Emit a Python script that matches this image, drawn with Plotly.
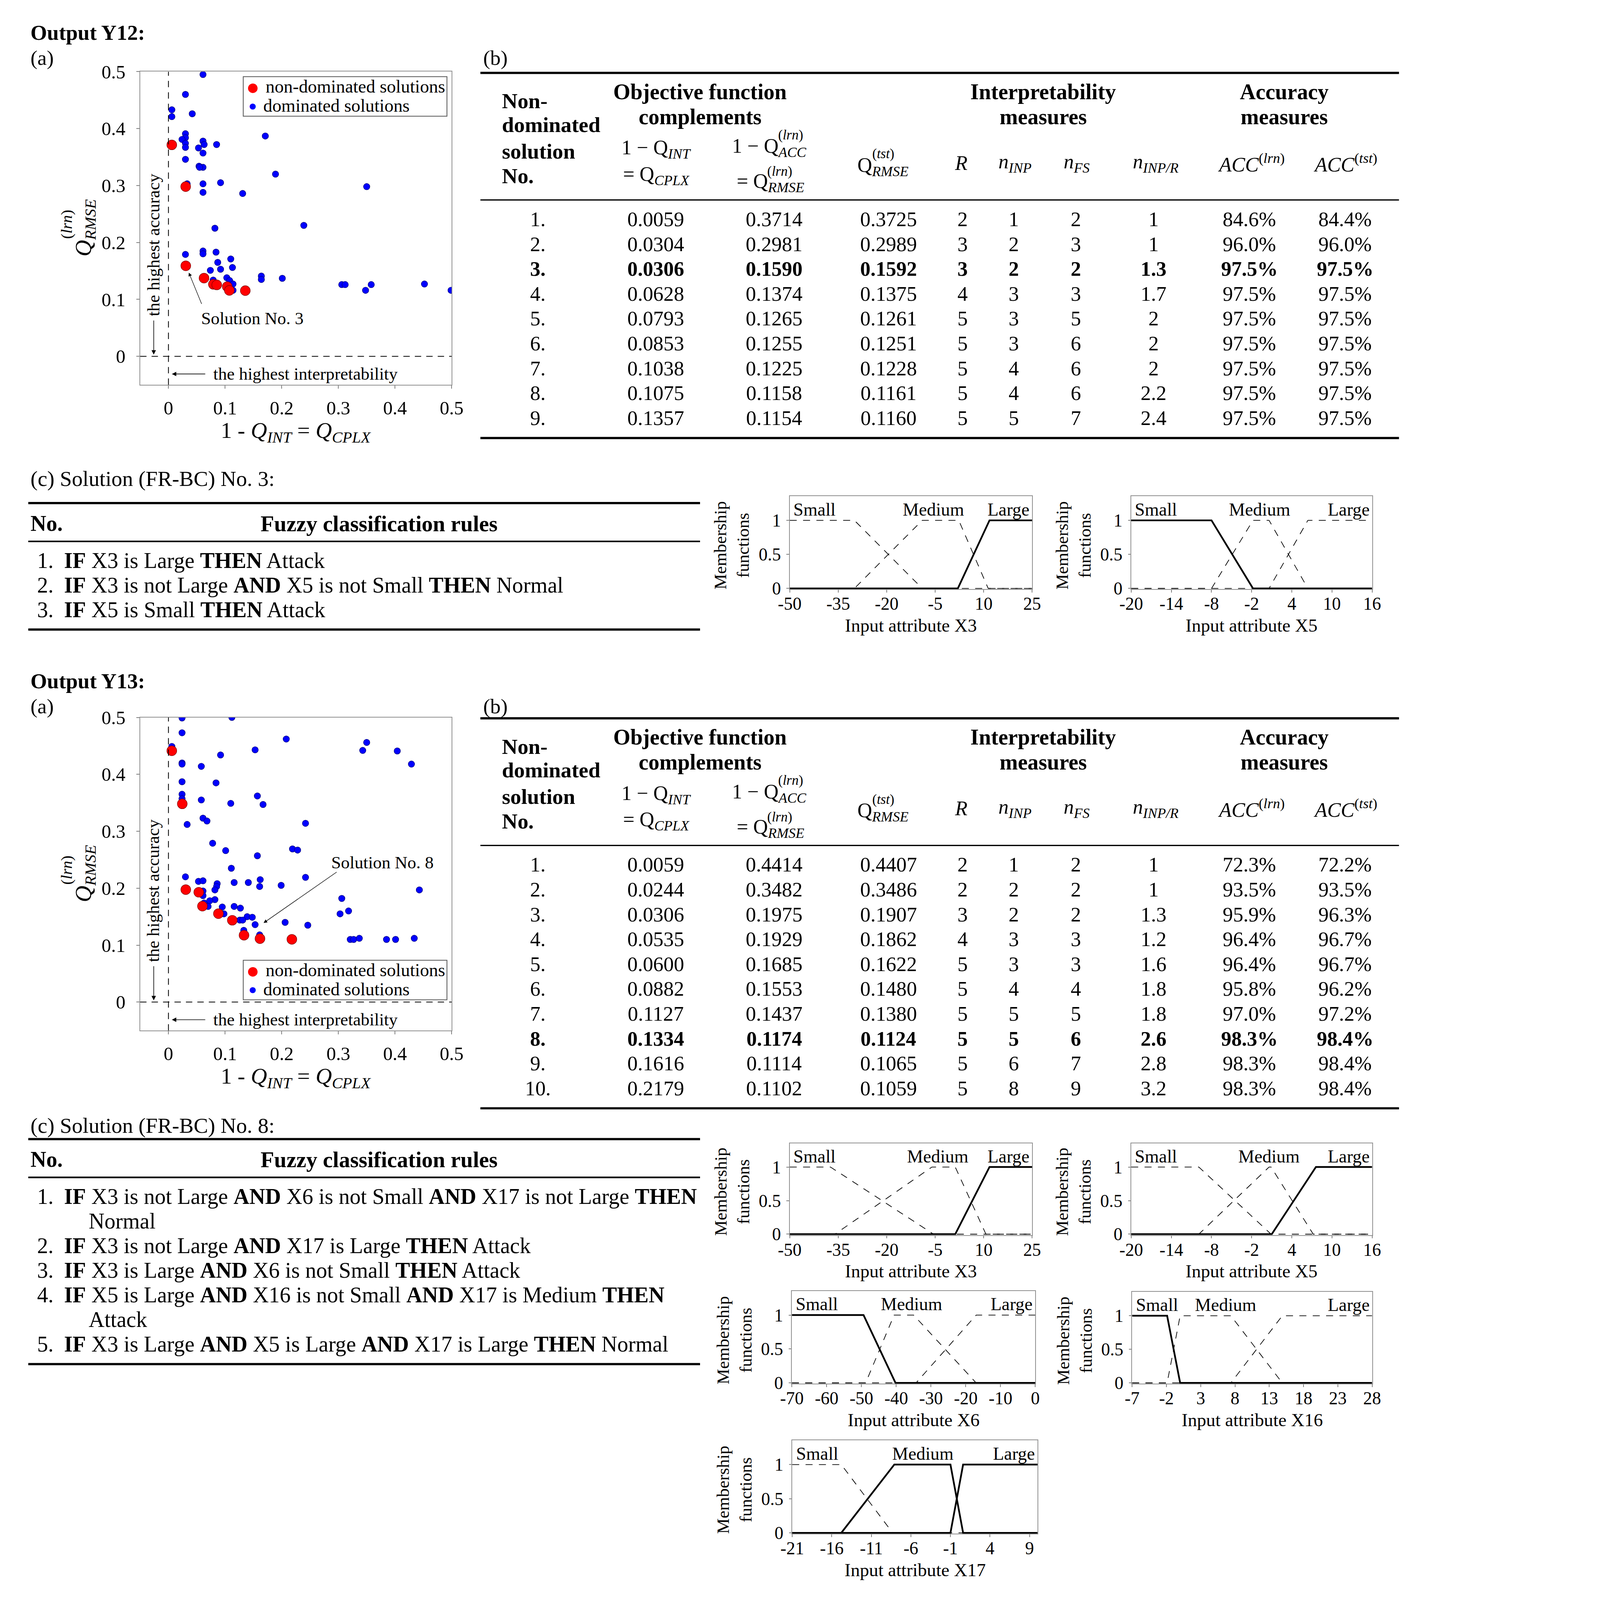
import plotly.graph_objects as go

# Reference geometry is 4477 x 5037; the viewer window is capped at 4096 px,
# so the whole figure is drawn uniformly scaled to fit that height.
W_REF, H_REF = 4477, 5037
S = 4096 / H_REF
W_FIG, H_FIG = round(W_REF * S), 4096
FONT = "Liberation Serif"

# ====================== DATA: Output Y12 ======================
y12_nd_cplx = [0.0059, 0.0304, 0.0306, 0.0628, 0.0793, 0.0853, 0.1038, 0.1075, 0.1357]
y12_nd_rmse_lrn = [0.3714, 0.2981, 0.1590, 0.1374, 0.1265, 0.1255, 0.1225, 0.1158, 0.1154]
y12_nd_rmse_tst = [0.3725, 0.2989, 0.1592, 0.1375, 0.1261, 0.1251, 0.1228, 0.1161, 0.1160]
y12_R = [2, 3, 3, 4, 5, 5, 5, 5, 5]
y12_n_inp = [1, 2, 2, 3, 3, 3, 4, 4, 5]
y12_n_fs = [2, 3, 2, 3, 5, 6, 6, 6, 7]
y12_n_inp_r = [1, 1, 1.3, 1.7, 2, 2, 2, 2.2, 2.4]
y12_acc_lrn = [84.6, 96.0, 97.5, 97.5, 97.5, 97.5, 97.5, 97.5, 97.5]
y12_acc_tst = [84.4, 96.0, 97.5, 97.5, 97.5, 97.5, 97.5, 97.5, 97.5]
y12_selected = 3

y12_dom_cplx = [0.061, 0.030, 0.006, 0.006, 0.042, 0.030, 0.030, 0.024, 0.030, 0.030,
                0.053, 0.061, 0.063, 0.085, 0.061, 0.030, 0.054, 0.061, 0.055, 0.171,
                0.189, 0.033, 0.061, 0.092, 0.061, 0.131, 0.350, 0.082, 0.239, 0.030,
                0.061, 0.061, 0.084, 0.110, 0.087, 0.074, 0.092, 0.113, 0.079, 0.103,
                0.108, 0.114, 0.114, 0.164, 0.164, 0.201, 0.306, 0.312, 0.348, 0.358,
                0.452, 0.499]
y12_dom_rmse = [0.495, 0.460, 0.433, 0.421, 0.426, 0.391, 0.384, 0.381, 0.374, 0.367,
                0.366, 0.378, 0.372, 0.372, 0.357, 0.346, 0.334, 0.332, 0.332, 0.387,
                0.320, 0.303, 0.303, 0.305, 0.288, 0.286, 0.298, 0.225, 0.230, 0.179,
                0.185, 0.180, 0.183, 0.171, 0.165, 0.151, 0.153, 0.156, 0.134, 0.138,
                0.133, 0.127, 0.116, 0.141, 0.135, 0.137, 0.126, 0.126, 0.116, 0.126,
                0.127, 0.116]

y12_rules = [
    ("1.", "<b>IF</b> X3 is Large <b>THEN</b> Attack"),
    ("2.", "<b>IF</b> X3 is not Large <b>AND</b> X5 is not Small <b>THEN</b> Normal"),
    ("3.", "<b>IF</b> X5 is Small <b>THEN</b> Attack"),
]

# membership functions (Small: end of plateau, zero point; Medium: a,b,c,d; Large: zero point, start of plateau)
y12_x3_range = [-50, 25]
y12_x3_ticks = [-50, -35, -20, -5, 10, 25]
y12_x3_small = [-30, -9]
y12_x3_medium = [-30, -9, 2.3, 11.4]
y12_x3_large = [2, 11.8]
y12_x3_solid = ["Large"]
y12_x3_medium_label = -5.5

y12_x5_range = [-20, 16]
y12_x5_ticks = [-20, -14, -8, -2, 4, 10, 16]
y12_x5_small = [-8, -1.8]
y12_x5_medium = [-8, -1.8, 0.6, 6.4]
y12_x5_large = [0.6, 6.4]
y12_x5_solid = ["Small"]
y12_x5_medium_label = -0.8

# ====================== DATA: Output Y13 ======================
y13_nd_cplx = [0.0059, 0.0244, 0.0306, 0.0535, 0.0600, 0.0882, 0.1127, 0.1334, 0.1616, 0.2179]
y13_nd_rmse_lrn = [0.4414, 0.3482, 0.1975, 0.1929, 0.1685, 0.1553, 0.1437, 0.1174, 0.1114, 0.1102]
y13_nd_rmse_tst = [0.4407, 0.3486, 0.1907, 0.1862, 0.1622, 0.1480, 0.1380, 0.1124, 0.1065, 0.1059]
y13_R = [2, 2, 3, 4, 5, 5, 5, 5, 5, 5]
y13_n_inp = [1, 2, 2, 3, 3, 4, 5, 5, 6, 8]
y13_n_fs = [2, 2, 2, 3, 3, 4, 5, 6, 7, 9]
y13_n_inp_r = [1, 1, 1.3, 1.2, 1.6, 1.8, 1.8, 2.6, 2.8, 3.2]
y13_acc_lrn = [72.3, 93.5, 95.9, 96.4, 96.4, 95.8, 97.0, 98.3, 98.3, 98.3]
y13_acc_tst = [72.2, 93.5, 96.3, 96.7, 96.7, 96.2, 97.2, 98.4, 98.4, 98.4]
y13_selected = 8

y13_dom_cplx = [0.024, 0.112, 0.024, 0.006, 0.208, 0.350, 0.343, 0.404, 0.429, 0.153,
                0.092, 0.024, 0.024, 0.058, 0.024, 0.084, 0.024, 0.024, 0.058, 0.157,
                0.110, 0.167, 0.061, 0.068, 0.033, 0.242, 0.078, 0.101, 0.219, 0.228,
                0.157, 0.111, 0.030, 0.053, 0.061, 0.116, 0.141, 0.162, 0.242, 0.086,
                0.085, 0.082, 0.161, 0.199, 0.443, 0.061, 0.061, 0.082, 0.063, 0.073,
                0.070, 0.095, 0.116, 0.127, 0.306, 0.318, 0.303, 0.098, 0.139, 0.148,
                0.126, 0.131, 0.153, 0.206, 0.246, 0.133, 0.161, 0.321, 0.327, 0.337,
                0.385, 0.401, 0.434]
y13_dom_rmse = [0.499, 0.500, 0.473, 0.449, 0.462, 0.456, 0.442, 0.441, 0.418, 0.443,
                0.434, 0.420, 0.418, 0.414, 0.387, 0.385, 0.365, 0.357, 0.355, 0.362,
                0.349, 0.347, 0.323, 0.318, 0.312, 0.314, 0.279, 0.266, 0.269, 0.267,
                0.257, 0.235, 0.220, 0.212, 0.213, 0.210, 0.210, 0.215, 0.219, 0.208,
                0.203, 0.197, 0.203, 0.205, 0.197, 0.195, 0.187, 0.180, 0.174, 0.178,
                0.168, 0.167, 0.168, 0.165, 0.182, 0.160, 0.155, 0.155, 0.150, 0.149,
                0.144, 0.144, 0.136, 0.140, 0.135, 0.126, 0.118, 0.110, 0.110, 0.112,
                0.110, 0.110, 0.112]

y13_rules = [
    ("1.", "<b>IF</b> X3 is not Large <b>AND</b> X6 is not Small <b>AND</b> X17 is not Large <b>THEN</b>"),
    ("", "Normal"),
    ("2.", "<b>IF</b> X3 is not Large <b>AND</b> X17 is Large <b>THEN</b> Attack"),
    ("3.", "<b>IF</b> X3 is Large <b>AND</b> X6 is not Small <b>THEN</b> Attack"),
    ("4.", "<b>IF</b> X5 is Large <b>AND</b> X16 is not Small <b>AND</b> X17 is Medium <b>THEN</b>"),
    ("", "Attack"),
    ("5.", "<b>IF</b> X3 is Large <b>AND</b> X5 is Large <b>AND</b> X17 is Large <b>THEN</b> Normal"),
]

y13_x3_range = [-50, 25]
y13_x3_ticks = [-50, -35, -20, -5, 10, 25]
y13_x3_small = [-37.4, -5.5]
y13_x3_medium = [-36, -6, 1.2, 10.7]
y13_x3_large = [1.2, 11.8]
y13_x3_solid = ["Large"]
y13_x3_medium_label = -4.2

y13_x5_range = [-20, 16]
y13_x5_ticks = [-20, -14, -8, -2, 4, 10, 16]
y13_x5_small = [-9.9, 0.9]
y13_x5_medium = [-9.9, 0.6, 0.9, 7.2]
y13_x5_large = [1.0, 7.6]
y13_x5_solid = ["Large"]
y13_x5_medium_label = 0.6

y13_x6_range = [-70, 0]
y13_x6_ticks = [-70, -60, -50, -40, -30, -20, -10, 0]
y13_x6_small = [-49.4, -40.2]
y13_x6_medium = [-48.8, -40.6, -35, -17]
y13_x6_large = [-34.3, -17]
y13_x6_solid = ["Small"]
y13_x6_medium_label = -35.6

y13_x16_range = [-7, 28]
y13_x16_ticks = [-7, -2, 3, 8, 13, 18, 23, 28]
y13_x16_small = [-1.9, 0]
y13_x16_medium = [-1.9, 0, 7.4, 14.9]
y13_x16_large = [7.4, 14.9]
y13_x16_solid = ["Small"]
y13_x16_medium_label = 6.6

y13_x17_range = [-21, 10]
y13_x17_ticks = [-21, -16, -11, -6, -1, 4, 9]
y13_x17_small = [-14.8, -8.3]
y13_x17_medium = [-14.8, -8.1, -1, 0.6]
y13_x17_large = [-1, 0.6]
y13_x17_solid = ["Medium", "Large"]
y13_x17_medium_label = -4.5

scatter_ticks = [0, 0.1, 0.2, 0.3, 0.4, 0.5]

# ====================== FIGURE ======================
fig = go.Figure()
ann = []
shapes = []
axes = {}


def z(v):
    return v * S


def zi(v):
    return int(round(v * S))


def dash(a, b):
    return f"{z(a):.1f}px,{z(b):.1f}px"


def px(x):
    return x / W_REF


def py(y):
    return 1 - y / H_REF


def text(x, y, s, size=64, xa="left", ya="middle", color="black", **kw):
    ann.append(dict(x=px(x), y=py(y), xref="paper", yref="paper", text=s, showarrow=False,
                    xanchor=xa, yanchor=ya, font=dict(size=z(size), family=FONT, color=color),
                    **kw))


def hline(x0, x1, y, w):
    shapes.append(dict(type="line", xref="paper", yref="paper", x0=px(x0), x1=px(x1),
                       y0=py(y), y1=py(y), line=dict(color="black", width=z(w))))


def axname(n, kind):
    return f"{kind}axis" if n == 1 else f"{kind}axis{n}"


def ref(n, kind):
    return kind if n == 1 else f"{kind}{n}"


# ---------- scatter panels ----------
def scatter_panel(n, top, dom_x, dom_y, nd_x, nd_y, sol_idx, sol_text_xy, sol_tail, sol_head,
                  leg_top):
    left, right, bottom = 411, 1408, top + 998
    common = dict(range=[-0.05, 0.5], tickvals=scatter_ticks,
                  ticktext=[f"{v:g}" for v in scatter_ticks], ticks="outside", ticklen=z(10),
                  tickwidth=z(2), tickcolor="#808080", showline=True, mirror=True,
                  linecolor="#909090", linewidth=z(2), showgrid=False, zeroline=False,
                  tickfont=dict(size=z(60), family=FONT, color="black"))
    axes[axname(n, "x")] = dict(domain=[px(left), px(right)], anchor=ref(n, "y"),
                                ticklabelstandoff=zi(8), **common)
    axes[axname(n, "y")] = dict(domain=[py(bottom), py(top)], anchor=ref(n, "x"),
                                ticklabelstandoff=zi(22), **common)
    xr, yr = ref(n, "x"), ref(n, "y")
    fig.add_trace(go.Scatter(x=dom_x, y=dom_y, mode="markers", xaxis=xr, yaxis=yr,
                             marker=dict(color="#0000ff", size=z(20),
                                         line=dict(color="#00007a", width=z(1.5))),
                             name="dominated solutions", showlegend=False))
    fig.add_trace(go.Scatter(x=nd_x, y=nd_y, mode="markers", xaxis=xr, yaxis=yr,
                             marker=dict(color="#ff0000", size=z(31),
                                         line=dict(color="#7a0000", width=z(1.5))),
                             name="non-dominated solutions", showlegend=False))
    # dashed reference lines
    shapes.append(dict(type="line", xref=xr, yref=yr, x0=0, x1=0, y0=-0.05, y1=0.5,
                       line=dict(color="black", width=z(2.5), dash=dash(20, 16))))
    shapes.append(dict(type="line", xref=xr, yref=yr, x0=-0.05, x1=0.5, y0=0, y1=0,
                       line=dict(color="black", width=z(2.5), dash=dash(20, 16))))
    f = dict(size=z(55), family=FONT, color="black")
    ann.append(dict(x=-0.027, y=0.196, xref=xr, yref=yr, text="the highest accuracy",
                    textangle=-90, showarrow=False, font=f))
    ann.append(dict(x=-0.026, y=0.003, ax=-0.026, ay=0.064, xref=xr, yref=yr, axref=xr,
                    ayref=yr, text="", showarrow=True, arrowhead=2, arrowsize=1.4,
                    arrowwidth=z(2), arrowcolor="black"))
    ann.append(dict(x=0.078, y=-0.031, xref=xr, yref=yr, text="the highest interpretability",
                    xanchor="left", showarrow=False, font=f))
    ann.append(dict(x=0.006, y=-0.031, ax=0.066, ay=-0.031, xref=xr, yref=yr, axref=xr,
                    ayref=yr, text="", showarrow=True, arrowhead=2, arrowsize=1.4,
                    arrowwidth=z(2), arrowcolor="black"))
    ann.append(dict(x=sol_text_xy[0], y=sol_text_xy[1], xref=xr, yref=yr,
                    text=f"Solution No. {sol_idx}", showarrow=False, font=f))
    ann.append(dict(x=sol_head[0], y=sol_head[1], ax=sol_tail[0], ay=sol_tail[1], xref=xr,
                    yref=yr, axref=xr, ayref=yr, text="", showarrow=True, arrowhead=2,
                    arrowsize=1.4, arrowwidth=z(1.6), arrowcolor="black"))
    # legend box
    shapes.append(dict(type="rect", xref="paper", yref="paper", x0=px(741), x1=px(1393),
                       y0=py(leg_top + 126), y1=py(leg_top), fillcolor="white",
                       line=dict(color="#555555", width=z(2.5))))
    text(771, leg_top + 33, "●", size=70, xa="center", color="#ff0000")
    text(772, leg_top + 93, "●", size=44, xa="center", color="#0000ff")
    text(810, leg_top + 31, "non-dominated solutions", size=57)
    text(803, leg_top + 92, "dominated solutions", size=57)
    # axis titles (superscript stacked above the subscript)
    text(234, top + 498, "<i>Q</i><sub><i>RMSE</i></sub>", size=72, xa="center",
         textangle=-90)
    text(176, top + 486, "(<i>lrn</i>)", size=50, xa="center", textangle=-90)
    text(909, top + 1148, "1 - <i>Q</i><sub><i>INT</i></sub> = <i>Q</i><sub><i>CPLX</i></sub>",
         size=71, xa="center")


scatter_panel(1, 196, y12_dom_cplx, y12_dom_rmse, y12_nd_cplx, y12_nd_rmse_lrn, y12_selected,
              (0.148, 0.067), (0.059, 0.091), (0.036, 0.147), 212)
scatter_panel(2, 2254, y13_dom_cplx, y13_dom_rmse, y13_nd_cplx, y13_nd_rmse_lrn, y13_selected,
              (0.378, 0.245), (0.298, 0.229), (0.168, 0.139), 3028)


# ---------- result tables ----------
COLX = [1684, 2061, 2440, 2806, 3043, 3207, 3406, 3654, 3961, 4268]


def result_table(T, cplx, lrn, tst, R, ninp, nfs, ninpr, acc_l, acc_t, sel):
    hline(1500, 4440, T, 7)
    for i, s in enumerate(["Non-", "dominated", "solution", "No."]):
        text(1566, T + [90, 165, 250, 328][i], f"<b>{s}</b>", size=68)
    for cx, (a, b) in zip([2203, 3301, 4072], [("Objective function", "complements"),
                                               ("Interpretability", "measures"),
                                               ("Accuracy", "measures")]):
        text(cx, T + 60, f"<b>{a}</b>", size=69, xa="center")
        text(cx, T + 140, f"<b>{b}</b>", size=69, xa="center")
    text(2063, T + 243, "1 − Q<sub><i>INT</i></sub>", size=64, xa="center")
    text(2063, T + 327, "= Q<sub><i>CPLX</i></sub>", size=64, xa="center")
    # stacked super/subscripts
    text(2303, T + 238, "1 − Q<sub><i>ACC</i></sub>", size=64)
    text(2450, T + 198, "(<i>lrn</i>)", size=43)
    text(2318, T + 350, "= Q<sub><i>RMSE</i></sub>", size=64)
    text(2416, T + 314, "(<i>lrn</i>)", size=43)
    text(2704, T + 298, "Q<sub><i>RMSE</i></sub>", size=64)
    text(2752, T + 258, "(<i>tst</i>)", size=43)
    heads = ["<i>R</i>", "<i>n</i><sub><i>INP</i></sub>", "<i>n</i><sub><i>FS</i></sub>",
             "<i>n</i><sub><i>INP/R</i></sub>", "<i>ACC</i><sup>(<i>lrn</i>)</sup>",
             "<i>ACC</i><sup>(<i>tst</i>)</sup>"]
    for cx, hd in zip([3039, 3211, 3408, 3661, 3967, 4269], heads):
        text(cx, T + 287, hd, size=64, xa="center")
    hline(1500, 4440, T + 405, 4)
    n = len(cplx)
    for i in range(n):
        y = T + 466 + i * 79.2
        cells = [f"{i + 1}.", f"{cplx[i]:.4f}", f"{lrn[i]:.4f}", f"{tst[i]:.4f}", f"{R[i]}",
                 f"{ninp[i]}", f"{nfs[i]}", f"{ninpr[i]:g}", f"{acc_l[i]:.1f}%", f"{acc_t[i]:.1f}%"]
        for cx, c in zip(COLX, cells):
            if i + 1 == sel:
                c = f"<b>{c}</b>"
            text(cx, y, c, size=65, xa="center")
    hline(1500, 4440, T + 466 + (n - 1) * 79.2 + 64, 7)


result_table(200, y12_nd_cplx, y12_nd_rmse_lrn, y12_nd_rmse_tst, y12_R, y12_n_inp, y12_n_fs,
             y12_n_inp_r, y12_acc_lrn, y12_acc_tst, y12_selected)
result_table(2257, y13_nd_cplx, y13_nd_rmse_lrn, y13_nd_rmse_tst, y13_R, y13_n_inp, y13_n_fs,
             y13_n_inp_r, y13_acc_lrn, y13_acc_tst, y13_selected)


# ---------- rule tables ----------
def rule_table(R, title, rules):
    text(57, R - 78 if len(rules) < 5 else R - 43, title, size=68)
    hline(53, 2203, R, 7)
    text(57, R + 65, "<b>No.</b>", size=69)
    text(1176, R + 65, "<b>Fuzzy classification rules</b>", size=70, xa="center")
    hline(53, 2203, R + 122, 5)
    for i, (num, s) in enumerate(rules):
        y = R + 183 + i * 78.5
        if num:
            text(79, y, num, size=69)
            text(165, y, s, size=69)
        else:
            text(244, y, s, size=69)
    hline(53, 2203, R + 183 + (len(rules) - 1) * 78.5 + 63, 7)


rule_table(1571, "(c) Solution (FR-BC) No. 3:", y12_rules)
rule_table(3598, "(c) Solution (FR-BC) No. 8:", y13_rules)


# ---------- membership function panels ----------
def mf_panel(n, left, right, top, y0, xr, ticks, small, medium, large, solid, med_x, attr):
    ymax, ymin = 1.355, -0.012
    ppu = (y0 - top) / ymax
    bottom = y0 - ymin * ppu
    axes[axname(n, "x")] = dict(domain=[px(left), px(right)], anchor=ref(n, "y"), range=xr,
                                tickvals=ticks, ticktext=[str(t) for t in ticks],
                                ticks="outside", ticklen=z(8), tickwidth=z(2),
                                tickcolor="#808080", showline=True, mirror=True,
                                linecolor="#909090", linewidth=z(2), showgrid=False,
                                zeroline=False, ticklabelstandoff=zi(-12),
                                tickfont=dict(size=z(56), family=FONT, color="black"))
    axes[axname(n, "y")] = dict(domain=[py(bottom), py(top)], anchor=ref(n, "x"),
                                range=[ymin, ymax], tickvals=[0, 0.5, 1],
                                ticktext=["0", "0.5", "1"], ticks="outside", ticklen=z(8),
                                tickwidth=z(2), tickcolor="#808080", showline=True, mirror=True,
                                linecolor="#909090", linewidth=z(2), showgrid=False,
                                zeroline=False, ticklabelstandoff=zi(6),
                                tickfont=dict(size=z(56), family=FONT, color="black"))
    xmin, xmax = xr
    curves = {
        "Small": ([xmin, small[0], small[1], xmax], [1, 1, 0, 0]),
        "Medium": ([xmin, medium[0], medium[1], medium[2], medium[3], xmax], [0, 0, 1, 1, 0, 0]),
        "Large": ([xmin, large[0], large[1], xmax], [0, 0, 1, 1]),
    }
    order = [k for k in curves if k not in solid] + [k for k in curves if k in solid]
    for k in order:
        xs, ys = curves[k]
        if k in solid:
            line = dict(color="black", width=z(5.5))
        else:
            line = dict(color="black", width=z(2.2), dash=dash(22, 20))
        fig.add_trace(go.Scatter(x=xs, y=ys, mode="lines", line=line, xaxis=ref(n, "x"),
                                 yaxis=ref(n, "y"), showlegend=False, hoverinfo="skip"))
    f = dict(size=z(57), family=FONT, color="black")
    span = xmax - xmin
    ann.append(dict(x=xmin + 0.012 * span, y=1.16, xref=ref(n, "x"), yref=ref(n, "y"),
                    text="Small", xanchor="left", showarrow=False, font=f))
    ann.append(dict(x=med_x, y=1.16, xref=ref(n, "x"), yref=ref(n, "y"), text="Medium",
                    xanchor="center", showarrow=False, font=f))
    ann.append(dict(x=xmax - 0.008 * span, y=1.16, xref=ref(n, "x"), yref=ref(n, "y"),
                    text="Large", xanchor="right", showarrow=False, font=f))
    text(left - 185, (top + y0) / 2 + 10, "Membership<br>functions", size=55, xa="center",
         textangle=-90)
    text((left + right) / 2, y0 + 118, f"Input attribute {attr}", size=58, xa="center")


mf_panel(3, 2490, 3266, 1549, 1843, y12_x3_range, y12_x3_ticks, y12_x3_small, y12_x3_medium,
         y12_x3_large, y12_x3_solid, y12_x3_medium_label, "X3")
mf_panel(4, 3583, 4354, 1549, 1843, y12_x5_range, y12_x5_ticks, y12_x5_small, y12_x5_medium,
         y12_x5_large, y12_x5_solid, y12_x5_medium_label, "X5")
mf_panel(5, 2490, 3266, 3611, 3901, y13_x3_range, y13_x3_ticks, y13_x3_small, y13_x3_medium,
         y13_x3_large, y13_x3_solid, y13_x3_medium_label, "X3")
mf_panel(6, 3583, 4354, 3611, 3901, y13_x5_range, y13_x5_ticks, y13_x5_small, y13_x5_medium,
         y13_x5_large, y13_x5_solid, y13_x5_medium_label, "X5")
mf_panel(7, 2497, 3276, 4082, 4375, y13_x6_range, y13_x6_ticks, y13_x6_small, y13_x6_medium,
         y13_x6_large, y13_x6_solid, y13_x6_medium_label, "X6")
mf_panel(8, 3586, 4354, 4085, 4375, y13_x16_range, y13_x16_ticks, y13_x16_small,
         y13_x16_medium, y13_x16_large, y13_x16_solid, y13_x16_medium_label, "X16")
mf_panel(9, 2498, 3283, 4558, 4853, y13_x17_range, y13_x17_ticks, y13_x17_small,
         y13_x17_medium, y13_x17_large, y13_x17_solid, y13_x17_medium_label, "X17")

# ---------- section headings ----------
text(58, 71, "<b>Output Y12:</b>", size=67)
text(58, 152, "(a)", size=66)
text(1506, 152, "(b)", size=66)
text(58, 2138, "<b>Output Y13:</b>", size=67)
text(58, 2219, "(a)", size=66)
text(1506, 2219, "(b)", size=66)

fig.update_layout(width=W_FIG, height=H_FIG, margin=dict(l=0, r=0, t=0, b=0),
                  paper_bgcolor="white", plot_bgcolor="white",
                  font=dict(family=FONT, color="black", size=z(56)), showlegend=False,
                  annotations=ann, shapes=shapes, **axes)

fig.write_html("out.html", config={"displayModeBar": False},
               post_script="document.body.style.margin='0';")
